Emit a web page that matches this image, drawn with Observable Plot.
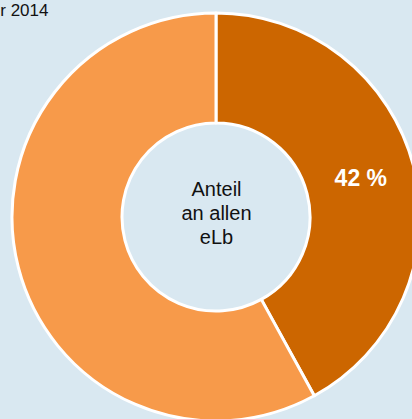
<!DOCTYPE html>
<html><head><meta charset="utf-8">
<script src="https://cdn.jsdelivr.net/npm/d3@7"></script>
<script src="https://cdn.jsdelivr.net/npm/@observablehq/plot@0.6"></script>
<style>
html,body{margin:0;padding:0;background:#d9e8f1;overflow:hidden;}
svg{display:block;font-family:"Liberation Sans",Arial,sans-serif;}
</style></head>
<body><div id="chart"></div>
<script>
const categories = ["eLb", "übrige"];
const values = [42, 58];
const colors = ["#cc6600", "#f79a4a"];
const valueLabels = ["42 %", ""];
const centerLabel = "Anteil\nan allen\neLb";
const topNote = "Jahr 2014";

const W = 412, H = 419;
const cx = 216, cy = 217, rOuter = 204, rInner = 94;

const pie = d3.pie().sort(null).value(d => d.value);
const data = categories.map((c, i) => ({category: c, value: values[i], label: valueLabels[i]}));
const arcs = pie(data);
const arcGen = d3.arc().innerRadius(rInner).outerRadius(rOuter);
const labelPos = arcs.map(a => { const [x, y] = arcGen.centroid(a); return {x: cx + x, y: cy + y, label: a.data.label}; });

function donut(index, scales, vals, dims, context) {
  const g = d3.create("svg:g").attr("transform", `translate(${scales.x(cx)},${scales.y(cy)})`);
  g.selectAll("path").data(arcs).join("path")
    .attr("d", arcGen)
    .attr("fill", d => scales.color(d.data.category))
    .attr("stroke", "white")
    .attr("stroke-width", 3)
    .attr("stroke-linejoin", "round");
  return g.node();
}

const chart = Plot.plot({
  width: W, height: H, margin: 0,
  x: {domain: [0, W], axis: null},
  y: {domain: [H, 0], axis: null},
  color: {domain: categories, range: colors},
  style: {background: "#d9e8f1", fontFamily: "'Liberation Sans', Arial, sans-serif"},
  marks: [
    donut,
    Plot.text(labelPos, {x: "x", y: "y", text: "label", fill: "white", fontWeight: "bold", fontSize: 23, dy: -2}),
    Plot.text([centerLabel], {x: () => cx, y: () => cy, text: d => d, fill: "#111", fontSize: 20, lineHeight: 1.2, dy: -5}),
    Plot.text([topNote], {x: () => 48, y: () => 10.5, text: d => d, fill: "#111", fontSize: 17, textAnchor: "end"})
  ]
});
document.getElementById("chart").appendChild(chart);
</script></body></html>
